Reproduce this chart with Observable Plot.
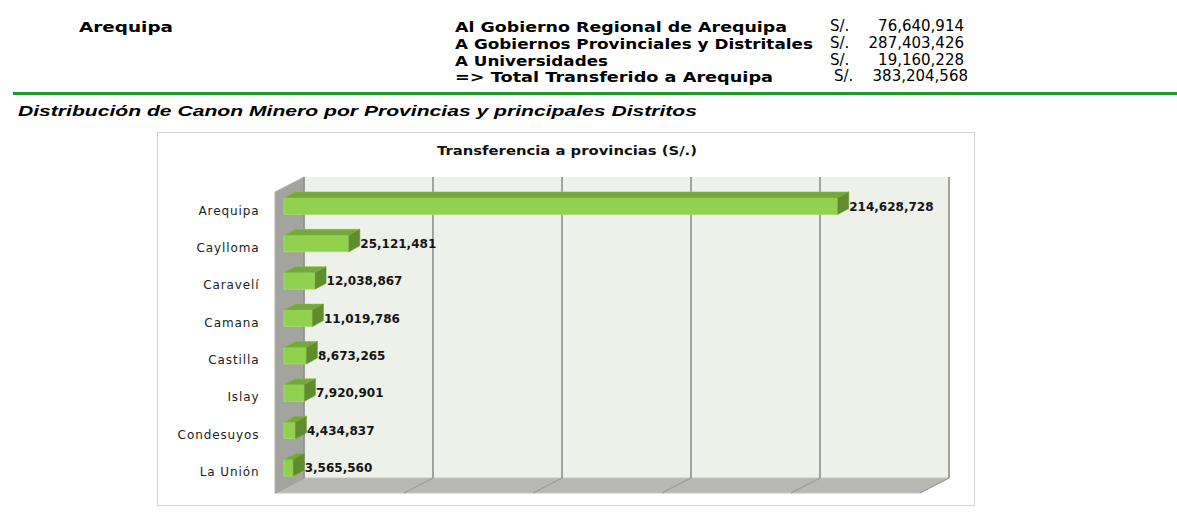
<!DOCTYPE html>
<html>
<head>
<meta charset="utf-8">
<script src="https://cdn.jsdelivr.net/npm/d3@7"></script>
<script src="https://cdn.jsdelivr.net/npm/@observablehq/plot@0.6"></script>
<style>
  body { margin: 0; background: #fff; width: 1177px; height: 518px; position: relative; overflow: hidden; }
  .hdr { position: absolute; font-family: "DejaVu Sans", sans-serif; font-size: 15px; color: #000; white-space: nowrap; line-height: 1; }
  .b { font-weight: bold; font-size: 14px; }
  #rule { position: absolute; left: 13px; top: 92px; width: 1164px; height: 3px; background: #1f9a26; }
  #sub { position: absolute; left: 18px; top: 104px; font-family: "Liberation Sans", Arial, sans-serif; font-weight: bold; font-style: italic; font-size: 14.5px; white-space: nowrap; color: #000; line-height: 1.1; }
  #box { position: absolute; left: 157px; top: 132px; width: 816px; height: 372px; border: 1.5px solid #d3d3d3; }
  #ctitle { position: absolute; left: 437px; top: 143.5px; font-family: "DejaVu Sans", sans-serif; font-weight: bold; font-size: 13px; color: #111; white-space: nowrap; line-height: 1.1; }
  #chart { position: absolute; left: 0; top: 0; }
</style>
</head>
<body>
<div id="box"></div>
<div id="ctitle">Transferencia a provincias (S/.)</div>
<div id="rule"></div>
<div id="sub">Distribución de Canon Minero por Provincias y principales Distritos</div>
<div id="chart"></div>
<script>
// ---- data ----
const region = "Arequipa";
const conceptos = ["Al Gobierno Regional de Arequipa", "A Gobiernos Provinciales y Distritales", "A Universidades", "=> Total Transferido a Arequipa"];
const montos = [76640914, 287403426, 19160228, 383204568];
const moneda = "S/.";
const provincias = ["Arequipa", "Caylloma", "Caravelí", "Camana", "Castilla", "Islay", "Condesuyos", "La Unión"];
const transferencias = [214628728, 25121481, 12038867, 11019786, 8673265, 7920901, 4434837, 3565560];
const xTicks = [0, 50000000, 100000000, 150000000, 200000000, 250000000];

const fmt = d3.format(",");

// stretch text horizontally to the reference's width
function fit(el, target) {
  const w = el.getBoundingClientRect().width;
  el.style.transformOrigin = "left center";
  el.style.transform = `scaleX(${target / w})`;
}

// ---- header (HTML text) ----
const lineTops = [19.5, 36.5, 53.5, 69.5];
const conceptWidths = [332, 358, 153, 318];
const h = document.createElement("div");
h.className = "hdr b"; h.style.left = "79px"; h.style.top = "19.5px"; h.textContent = region;
document.body.appendChild(h);
fit(h, 94);
conceptos.forEach((c, i) => {
  const a = document.createElement("div");
  a.className = "hdr b"; a.style.left = "455px"; a.style.top = lineTops[i] + "px"; a.textContent = c;
  document.body.appendChild(a);
  fit(a, conceptWidths[i]);
  const s = document.createElement("div");
  s.className = "hdr"; s.style.left = (i === 3 ? 834 : 830) + "px"; s.style.top = (lineTops[i] - 0.5) + "px"; s.textContent = moneda;
  document.body.appendChild(s);
  const v = document.createElement("div");
  v.className = "hdr"; v.style.right = (1177 - (i === 3 ? 968 : 964)) + "px"; v.style.top = (lineTops[i] - 0.5) + "px"; v.textContent = fmt(montos[i]);
  document.body.appendChild(v);
});
fit(document.getElementById("sub"), 679);
fit(document.getElementById("ctitle"), 260);

// ---- chart ----
const data = provincias.map((p, i) => ({provincia: p, valor: transferencias[i]}));
const DX = 20, DY = -10;      // bar front plane -> back wall
const WDX = 29, WDY = -15;    // wall depth
const BDX = 11, BDY = -6;     // bar depth
const WALL_BOTTOM = 478;

const poly = (pts) => pts.map(p => p.join(",")).join(" ");

const frameMark = (index, scales, values, dim) => {
  const g = d3.create("svg:g");
  const x = scales.x;
  const top = dim.marginTop;
  const xl = x(xTicks[0]) + DX, xr = x(xTicks[xTicks.length - 1]) + DX;
  // back wall
  g.append("rect").attr("x", xl).attr("y", top).attr("width", xr - xl).attr("height", WALL_BOTTOM - top).attr("fill", "#eef0ea");
  // side wall
  g.append("polygon").attr("points", poly([[xl, top], [xl, WALL_BOTTOM], [xl - WDX, WALL_BOTTOM - WDY], [xl - WDX, top - WDY]]))
    .attr("fill", "#a2a49d").attr("stroke", "#b4b6af").attr("stroke-width", 1);
  // floor
  g.append("polygon").attr("points", poly([[xl, WALL_BOTTOM], [xr, WALL_BOTTOM], [xr - WDX, WALL_BOTTOM - WDY], [xl - WDX, WALL_BOTTOM - WDY]]))
    .attr("fill", "#b6b8b1").attr("stroke", "#c4c6bf").attr("stroke-width", 1);
  // gridlines on back wall and floor
  xTicks.forEach(t => {
    const gx = x(t) + DX;
    g.append("line").attr("x1", gx).attr("x2", gx).attr("y1", top).attr("y2", WALL_BOTTOM)
      .attr("stroke", "#8e8e8e").attr("stroke-width", 1.6);
    g.append("line").attr("x1", gx).attr("x2", gx - WDX).attr("y1", WALL_BOTTOM).attr("y2", WALL_BOTTOM - WDY)
      .attr("stroke", "#9a9c96").attr("stroke-width", 1.2);
  });
  return g.node();
};

const barFaces = (index, scales, values, dim) => {
  const g = d3.create("svg:g");
  const x = scales.x, y = scales.y, bw = y.bandwidth();
  data.forEach(d => {
    const x1 = x(0), x2 = x(d.valor), yt = y(d.provincia), yb = yt + bw;
    g.append("polygon").attr("points", poly([[x1, yt], [x2, yt], [x2 + BDX, yt + BDY], [x1 + BDX, yt + BDY]]))
      .attr("fill", "#74a83b").attr("stroke", "#86be4a").attr("stroke-width", 0.6);
    g.append("polygon").attr("points", poly([[x2, yt], [x2 + BDX, yt + BDY], [x2 + BDX, yb + BDY], [x2, yb]]))
      .attr("fill", "#5d8d2c").attr("stroke", "#6b9b36").attr("stroke-width", 0.6);
  });
  return g.node();
};

const chart = Plot.plot({
  width: 1177,
  height: 518,
  marginLeft: 284,
  marginRight: 248,
  marginTop: 177,
  marginBottom: 21,
  style: {background: "transparent", fontFamily: "DejaVu Sans, sans-serif", overflow: "visible"},
  x: {domain: [xTicks[0], xTicks[xTicks.length - 1]], axis: null},
  y: {domain: provincias, padding: 0.56, round: false, label: null},
  marks: [
    frameMark,
    Plot.barX(data, {x: "valor", y: "provincia", fill: "#92d050", stroke: "#a9dc70", strokeWidth: 0.8}),
    barFaces,
    Plot.text(data, {x: "valor", y: "provincia", text: d => fmt(d.valor), dx: 11, textAnchor: "start",
      fontWeight: "bold", fontSize: 12, fill: "#151515"}),
    Plot.axisY({tickSize: 0, tickPadding: 25, dy: 4, fontSize: 12, fill: "#222", label: null})
  ]
});
chart.querySelectorAll("[aria-label='y-axis tick label'] text").forEach(t => t.style.letterSpacing = "0.9px");
document.getElementById("chart").appendChild(chart);
</script>
</body>
</html>
